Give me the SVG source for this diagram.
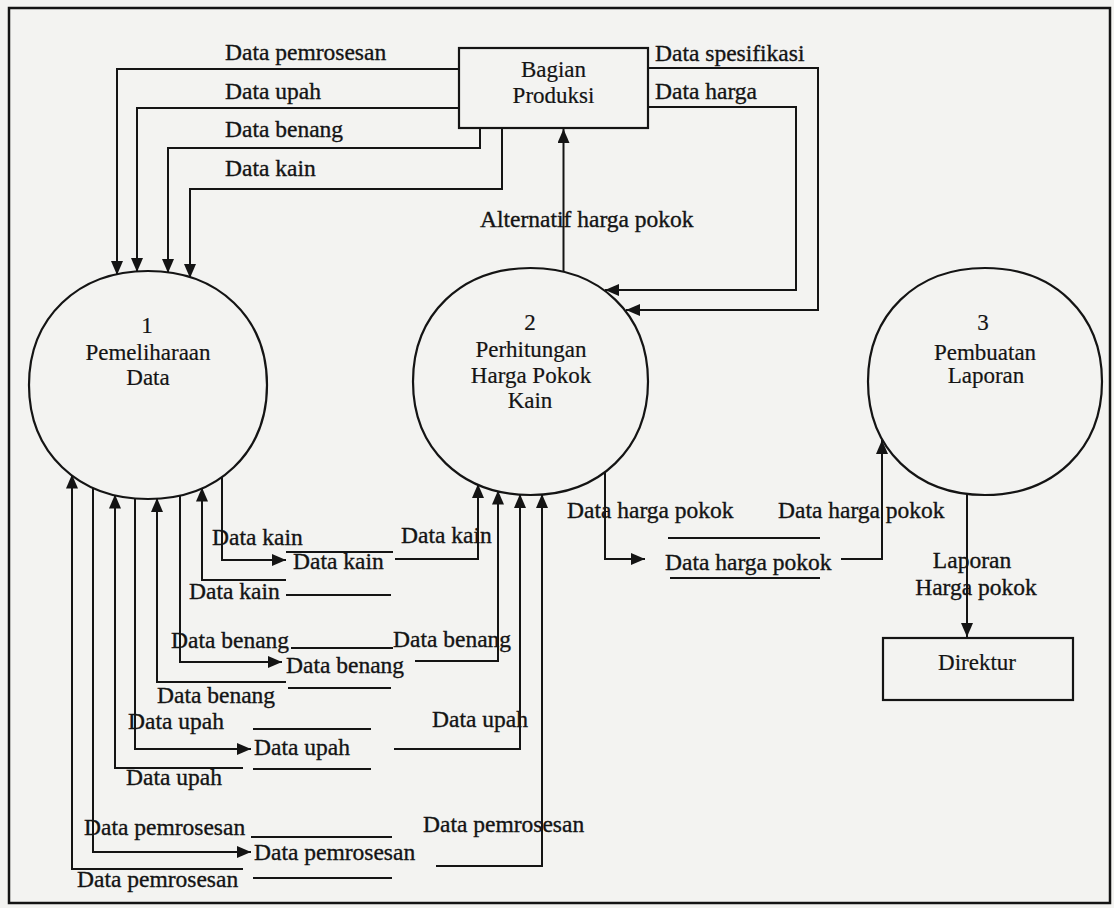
<svg xmlns="http://www.w3.org/2000/svg" width="1114" height="908" viewBox="0 0 1114 908">
<style>
.ln{fill:none;stroke:#141414;stroke-width:2}
.st{fill:none;stroke:#141414;stroke-width:2}
.sh{fill:#f3f3f1;stroke:#141414;stroke-width:2.2}
.lbl{font-family:"Liberation Serif","Times New Roman",serif;font-size:23.5px;fill:#141414;stroke:#141414;stroke-width:0.35}
.nt{font-family:"Liberation Serif","Times New Roman",serif;font-size:23px;fill:#141414;stroke:#141414;stroke-width:0.2;text-anchor:middle}
.mid{text-anchor:middle}
</style>
<defs>
<marker id="arr" viewBox="0 0 14 12" refX="14" refY="6" markerWidth="14" markerHeight="12" markerUnits="userSpaceOnUse" orient="auto">
<path d="M0,0 L14,6 L0,12 z" fill="#141414"/>
</marker>
</defs>
<rect x="0" y="0" width="1114" height="908" fill="#f3f3f1"/>
<rect x="9" y="8" width="1101" height="895" fill="none" stroke="#141414" stroke-width="2.5"/>

<g id="connectors">
<path class="ln" d="M459,69 H117 V275" marker-end="url(#arr)"/>
<path class="ln" d="M459,108 H137 V272" marker-end="url(#arr)"/>
<path class="ln" d="M480,128 V148 H168 V273" marker-end="url(#arr)"/>
<path class="ln" d="M502,128 V189 H190 V278" marker-end="url(#arr)"/>
<path class="ln" d="M648,68 H818 V310 H626" marker-end="url(#arr)"/>
<path class="ln" d="M648,107 H796 V290 H605" marker-end="url(#arr)"/>
<path class="ln" d="M563.5,274 V129" marker-end="url(#arr)"/>

<path class="ln" d="M222,476 V560 H286" marker-end="url(#arr)"/>
<path class="ln" d="M286,580 H202 V487.5" marker-end="url(#arr)"/>
<path class="ln" d="M180,494 V662 H282" marker-end="url(#arr)"/>
<path class="ln" d="M286,682 H157 V498" marker-end="url(#arr)"/>
<path class="ln" d="M135,497 V749 H251" marker-end="url(#arr)"/>
<path class="ln" d="M243,768 H115 V494.5" marker-end="url(#arr)"/>
<path class="ln" d="M93,486 V852 H251" marker-end="url(#arr)"/>
<path class="ln" d="M243,869 H72 V474.5" marker-end="url(#arr)"/>

<path class="ln" d="M395,559 H478 V484" marker-end="url(#arr)"/>
<path class="ln" d="M415,661 H498 V490.5" marker-end="url(#arr)"/>
<path class="ln" d="M394,749 H520 V494" marker-end="url(#arr)"/>
<path class="ln" d="M436,866 H542 V494" marker-end="url(#arr)"/>
<path class="ln" d="M605,471 V559 H645" marker-end="url(#arr)"/>
<path class="ln" d="M841,559 H882 V440" marker-end="url(#arr)"/>
<path class="ln" d="M967,492 V637" marker-end="url(#arr)"/>
</g>

<g id="bagian-produksi">
<rect class="sh" x="459" y="48" width="189" height="80"/>
<text class="nt" x="553.5" y="77">Bagian</text>
<text class="nt" x="553.5" y="103">Produksi</text>
</g>

<g id="proses-1">
<path class="sh" d="M267,385 C267,452.3 218.2,499 148,499 C77.8,499 29,452.3 29,385 C29,317.7 77.8,271 148,271 C218.2,271 267,317.7 267,385 Z"/>
<text class="nt" x="147" y="333">1</text>
<text class="nt" x="148" y="360">Pemeliharaan</text>
<text class="nt" x="148" y="385">Data</text>
</g>

<g id="proses-2">
<path class="sh" d="M648,381.5 C648,448.5 599.8,495 530.5,495 C461.2,495 413,448.5 413,381.5 C413,314.5 461.2,268 530.5,268 C599.8,268 648,314.5 648,381.5 Z"/>
<text class="nt" x="530" y="330">2</text>
<text class="nt" x="531" y="357">Perhitungan</text>
<text class="nt" x="531" y="383">Harga Pokok</text>
<text class="nt" x="530" y="408">Kain</text>
</g>

<g id="proses-3">
<path class="sh" d="M1102,381.5 C1102,448.5 1054,495 985,495 C916,495 868,448.5 868,381.5 C868,314.5 916,268 985,268 C1054,268 1102,314.5 1102,381.5 Z"/>
<text class="nt" x="983" y="330">3</text>
<text class="nt" x="985" y="360">Pembuatan</text>
<text class="nt" x="986" y="383">Laporan</text>
</g>

<g id="direktur">
<rect class="sh" x="883" y="638" width="190" height="62"/>
<text class="nt" x="977" y="670">Direktur</text>
</g>

<g id="store-kain">
<path class="st" d="M286,552 H393 M286,595 H391"/>
<text class="lbl" x="293" y="569">Data kain</text>
</g>
<g id="store-benang">
<path class="st" d="M291,648 H393 M288,688 H391"/>
<text class="lbl" x="286" y="673">Data benang</text>
</g>
<g id="store-upah">
<path class="st" d="M253,729 H371 M253,769 H371"/>
<text class="lbl" x="254" y="755">Data upah</text>
</g>
<g id="store-pemrosesan">
<path class="st" d="M251,837 H392 M253,878 H392"/>
<text class="lbl" x="254" y="860">Data pemrosesan</text>
</g>
<g id="store-harga-pokok">
<path class="st" d="M668,538 H820 M670,578 H820"/>
<text class="lbl" x="665" y="570">Data harga pokok</text>
</g>

<g id="labels">
<text class="lbl" x="225" y="60">Data pemrosesan</text>
<text class="lbl" x="225" y="99">Data upah</text>
<text class="lbl" x="225" y="137">Data benang</text>
<text class="lbl" x="225" y="176">Data kain</text>
<text class="lbl" x="655" y="61">Data spesifikasi</text>
<text class="lbl" x="655" y="99">Data harga</text>
<text class="lbl" x="480" y="227">Alternatif harga pokok</text>

<text class="lbl" x="212" y="545">Data kain</text>
<text class="lbl" x="189" y="599">Data kain</text>
<text class="lbl" x="401" y="543">Data kain</text>
<text class="lbl" x="171" y="648">Data benang</text>
<text class="lbl" x="157" y="703">Data benang</text>
<text class="lbl" x="393" y="647">Data benang</text>
<text class="lbl" x="128" y="729">Data upah</text>
<text class="lbl" x="126" y="785">Data upah</text>
<text class="lbl" x="432" y="727">Data upah</text>
<text class="lbl" x="84" y="835">Data pemrosesan</text>
<text class="lbl" x="77" y="887">Data pemrosesan</text>
<text class="lbl" x="423" y="832">Data pemrosesan</text>

<text class="lbl" x="567" y="518">Data harga pokok</text>
<text class="lbl" x="778" y="518">Data harga pokok</text>
<text class="lbl mid" x="972" y="568">Laporan</text>
<text class="lbl mid" x="976" y="595">Harga pokok</text>
</g>
</svg>
